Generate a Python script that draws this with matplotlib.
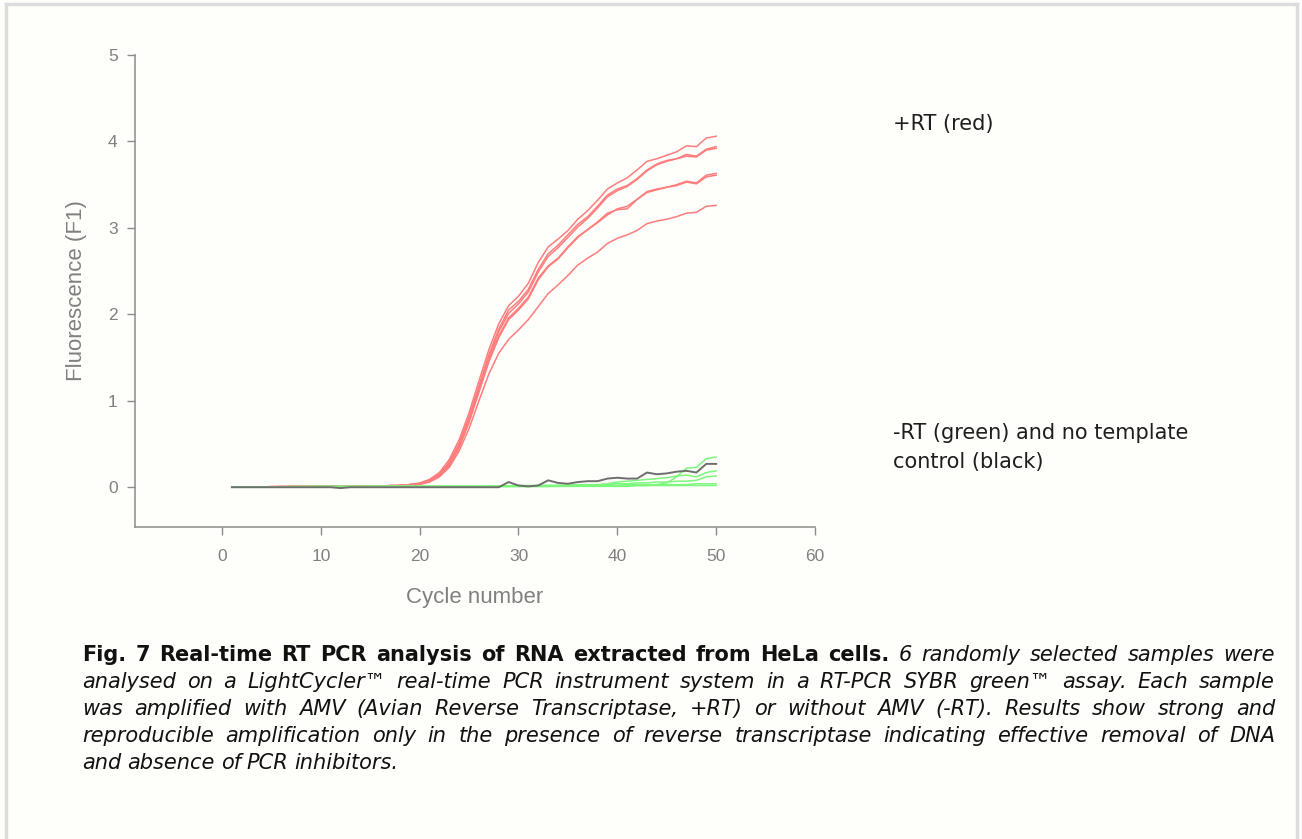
import matplotlib.pyplot as plt
from matplotlib.lines import Line2D

# ==============================
# data (fluorescence F1 per cycle)
# ==============================
cycles = list(range(1, 51))

red_a = [0.00, 0.00, 0.00, 0.00, 0.01, 0.01, 0.01, 0.01, 0.01, 0.01,
         0.01, 0.01, 0.01, 0.01, 0.01, 0.01, 0.02, 0.02, 0.03, 0.05,
         0.09, 0.17, 0.32, 0.55, 0.86, 1.23, 1.59, 1.89, 2.10, 2.21,
         2.36, 2.60, 2.78, 2.87, 2.97, 3.10, 3.20, 3.32, 3.45, 3.52,
         3.58, 3.67, 3.77, 3.80, 3.84, 3.88, 3.95, 3.94, 4.04, 4.06]
red_b1 = [0.00, 0.00, 0.00, 0.00, 0.00, 0.01, 0.01, 0.01, 0.01, 0.01,
          0.01, 0.01, 0.01, 0.01, 0.01, 0.01, 0.02, 0.02, 0.03, 0.04,
          0.08, 0.15, 0.29, 0.51, 0.81, 1.17, 1.53, 1.83, 2.05, 2.15,
          2.29, 2.52, 2.70, 2.80, 2.92, 3.04, 3.13, 3.25, 3.38, 3.45,
          3.49, 3.57, 3.67, 3.74, 3.78, 3.80, 3.85, 3.83, 3.91, 3.94]
red_b2 = [0.00, 0.00, 0.00, 0.00, 0.00, 0.00, 0.01, 0.01, 0.01, 0.01,
          0.01, 0.01, 0.01, 0.01, 0.01, 0.01, 0.02, 0.02, 0.03, 0.04,
          0.08, 0.15, 0.28, 0.50, 0.80, 1.15, 1.50, 1.80, 2.01, 2.12,
          2.26, 2.49, 2.67, 2.77, 2.89, 3.01, 3.11, 3.23, 3.36, 3.43,
          3.48, 3.56, 3.66, 3.73, 3.77, 3.80, 3.83, 3.82, 3.90, 3.92]
red_c1 = [0.00, 0.00, 0.00, 0.00, 0.00, 0.00, 0.00, 0.01, 0.01, 0.01,
          0.01, 0.01, 0.01, 0.01, 0.01, 0.01, 0.01, 0.02, 0.03, 0.04,
          0.07, 0.13, 0.26, 0.47, 0.76, 1.12, 1.47, 1.75, 1.96, 2.07,
          2.20, 2.42, 2.56, 2.65, 2.78, 2.90, 2.98, 3.06, 3.15, 3.22,
          3.25, 3.33, 3.42, 3.45, 3.47, 3.50, 3.54, 3.52, 3.61, 3.63]
red_c2 = [0.00, 0.00, 0.00, 0.00, 0.00, 0.00, 0.00, 0.00, 0.01, 0.01,
          0.01, 0.01, 0.01, 0.01, 0.01, 0.01, 0.01, 0.02, 0.03, 0.04,
          0.07, 0.13, 0.25, 0.46, 0.75, 1.10, 1.45, 1.73, 1.94, 2.05,
          2.18, 2.40, 2.55, 2.64, 2.77, 2.89, 2.98, 3.07, 3.17, 3.21,
          3.22, 3.33, 3.41, 3.44, 3.47, 3.49, 3.53, 3.51, 3.59, 3.61]
red_d = [0.00, 0.00, 0.00, 0.00, 0.00, 0.00, 0.00, 0.00, 0.00, 0.01,
         0.01, 0.01, 0.01, 0.01, 0.01, 0.01, 0.01, 0.02, 0.02, 0.03,
         0.06, 0.12, 0.23, 0.42, 0.68, 1.00, 1.31, 1.55, 1.71, 1.82,
         1.94, 2.09, 2.24, 2.34, 2.45, 2.57, 2.65, 2.72, 2.82, 2.88,
         2.92, 2.97, 3.05, 3.08, 3.10, 3.13, 3.17, 3.18, 3.25, 3.26]

green_1 = [0.00, 0.00, 0.00, 0.00, 0.00, 0.00, 0.01, 0.01, 0.01, 0.01,
           0.01, 0.01, 0.01, 0.01, 0.01, 0.01, 0.01, 0.01, 0.01, 0.01,
           0.01, 0.01, 0.01, 0.01, 0.01, 0.01, 0.01, 0.01, 0.01, 0.02,
           0.02, 0.02, 0.02, 0.02, 0.02, 0.02, 0.02, 0.02, 0.02, 0.02,
           0.02, 0.02, 0.02, 0.03, 0.05, 0.12, 0.22, 0.23, 0.33, 0.35]
green_2 = [0.00, 0.00, 0.00, 0.00, 0.00, 0.00, 0.00, 0.00, 0.01, 0.01,
           0.01, 0.01, 0.01, 0.01, 0.01, 0.01, 0.01, 0.01, 0.01, 0.01,
           0.01, 0.01, 0.01, 0.01, 0.01, 0.01, 0.01, 0.01, 0.01, 0.01,
           0.01, 0.02, 0.02, 0.02, 0.02, 0.03, 0.03, 0.03, 0.04, 0.06,
           0.07, 0.08, 0.09, 0.10, 0.11, 0.13, 0.14, 0.12, 0.17, 0.19]
green_3 = [0.00, 0.00, 0.00, 0.00, 0.00, 0.00, 0.00, 0.00, 0.00, 0.00,
           0.00, 0.00, 0.00, 0.00, 0.01, 0.01, 0.01, 0.01, 0.01, 0.01,
           0.01, 0.01, 0.01, 0.01, 0.01, 0.01, 0.01, 0.01, 0.01, 0.01,
           0.01, 0.01, 0.01, 0.01, 0.02, 0.02, 0.02, 0.02, 0.03, 0.04,
           0.04, 0.05, 0.05, 0.06, 0.06, 0.07, 0.07, 0.08, 0.12, 0.13]
green_4 = [0.00, 0.00, 0.00, 0.00, 0.00, 0.00, 0.00, 0.00, 0.00, 0.00,
           0.00, 0.00, 0.00, 0.00, 0.00, 0.00, 0.01, 0.01, 0.01, 0.01,
           0.01, 0.01, 0.01, 0.01, 0.01, 0.01, 0.01, 0.01, 0.01, 0.01,
           0.01, 0.01, 0.01, 0.02, 0.02, 0.02, 0.02, 0.02, 0.02, 0.02,
           0.03, 0.03, 0.03, 0.03, 0.03, 0.03, 0.03, 0.04, 0.04, 0.04]
green_5 = [0.00, 0.00, 0.00, 0.00, 0.00, 0.00, 0.00, 0.00, 0.00, 0.00,
           0.00, 0.00, 0.00, 0.00, 0.00, 0.00, 0.00, 0.00, 0.00, 0.00,
           0.00, 0.00, 0.00, 0.00, 0.00, 0.00, 0.01, 0.01, 0.01, 0.01,
           0.01, 0.01, 0.01, 0.01, 0.01, 0.01, 0.01, 0.01, 0.01, 0.01,
           0.01, 0.02, 0.02, 0.02, 0.02, 0.02, 0.02, 0.02, 0.02, 0.02]

black_ntc = [0.00, 0.00, 0.00, 0.00, 0.00, 0.00, 0.00, 0.00, 0.00, 0.00,
             0.00, -0.01, 0.00, 0.00, 0.00, 0.00, 0.00, 0.00, 0.00, 0.00,
             0.00, 0.00, 0.00, 0.00, 0.00, 0.00, 0.00, 0.00, 0.06, 0.02,
             0.01, 0.02, 0.08, 0.05, 0.04, 0.06, 0.07, 0.07, 0.10, 0.11,
             0.10, 0.10, 0.17, 0.15, 0.16, 0.18, 0.19, 0.17, 0.27, 0.27]

red_series = [red_a, red_b1, red_b2, red_c1, red_c2, red_d]
green_series = [green_1, green_2, green_3, green_4, green_5]

x_ticks = [0, 10, 20, 30, 40, 50, 60]
y_ticks = [0, 1, 2, 3, 4, 5]

caption_lines = [
    [("Fig. 7 Real-time RT PCR analysis of RNA extracted from HeLa cells.", "bold"),
     ("6 randomly selected samples were", "italic")],
    [("analysed on a LightCycler™ real-time PCR instrument system in a RT-PCR SYBR green™ assay. Each sample", "italic")],
    [("was amplified with AMV (Avian Reverse Transcriptase, +RT) or without AMV (-RT). Results show strong and", "italic")],
    [("reproducible amplification only in the presence of reverse transcriptase indicating effective removal of DNA", "italic")],
    [("and absence of PCR inhibitors.", "italic")],
]

W, H = 1302, 839
BG = "#fefefb"
GREY = "#808080"

fig = plt.figure(figsize=(W / 100, H / 100), dpi=100, facecolor=BG)

# page frame (light grey border left/top/right)
for xs, ys in [([6 / W, 6 / W], [0, 1 - 4 / H]),
               ([6 / W, 1297 / W], [1 - 4 / H, 1 - 4 / H]),
               ([1297 / W, 1297 / W], [0, 1 - 4 / H])]:
    fig.add_artist(Line2D(xs, ys, transform=fig.transFigure, color="#dcdcdc", lw=2.5))

ax = fig.add_axes([135 / W, 1 - 527 / H, 680 / W, 472 / H])
ax.set_facecolor(BG)

for ys in red_series:
    ax.plot(cycles, ys, color="#ff7d7d", lw=1.1)
for ys in green_series:
    ax.plot(cycles, ys, color="#7cf77c", lw=1.1)
ax.plot(cycles, black_ntc, color="#6e6e6e", lw=1.4)

ax.set_xlim(-8.8, 60)
ax.set_ylim(-0.46, 5)
ax.set_xticks(x_ticks)
ax.set_yticks(y_ticks)

for side in ["top", "right"]:
    ax.spines[side].set_visible(False)
for side in ["left", "bottom"]:
    ax.spines[side].set_color("#8c8c8c")
    ax.spines[side].set_linewidth(1.1)

ax.tick_params(axis="both", direction="out", length=5.5, width=1, color="#8c8c8c",
               labelcolor=GREY, labelsize=12.5)
ax.tick_params(axis="x", pad=10)
ax.tick_params(axis="y", pad=7)
for lbl in ax.get_xticklabels() + ax.get_yticklabels():
    lbl.set_fontfamily("Liberation Sans")

ax.set_xlabel("Cycle number", fontsize=16, color=GREY, family="Liberation Sans")
ax.set_ylabel("Fluorescence (F1)", fontsize=16, color=GREY, family="Liberation Sans")
ax.xaxis.set_label_coords(0.5, (527 - 598) / 472)
ax.xaxis.label.set_va("center")
ax.yaxis.set_label_coords((77 - 135) / 680, 0.5)
ax.yaxis.label.set_va("center")

# annotations on the right
fig.text(893 / W, 1 - 124 / H, "+RT (red)", fontsize=15, color="#1e1e1e", va="center")
fig.text(893 / W, 1 - 433 / H, "-RT (green) and no template", fontsize=15, color="#1e1e1e", va="center")
fig.text(893 / W, 1 - 462 / H, "control (black)", fontsize=15, color="#1e1e1e", va="center")

# justified caption
renderer = fig.canvas.get_renderer()
x0, x1 = 82, 1275
baselines = [661, 688, 715, 742, 769]
for i, segs in enumerate(caption_lines):
    words = []
    for text, style in segs:
        for w in text.split():
            words.append((w, style))
    items = []
    for w, style in words:
        kw = dict(fontsize=15, color="#111111", va="baseline", ha="left")
        if style == "bold":
            kw["fontweight"] = "bold"
        else:
            kw["fontstyle"] = "italic"
        t = fig.text(0, 1 - baselines[i] / H, w, **kw)
        items.append((t, t.get_window_extent(renderer).width))
    total = sum(wd for _, wd in items)
    last = i == len(caption_lines) - 1
    space = 6.0 if last else (x1 - x0 - total) / (len(items) - 1)
    x = x0
    for t, wd in items:
        t.set_x(x / W)
        x += wd + space

fig.savefig("out.png", dpi=100, facecolor=BG)
